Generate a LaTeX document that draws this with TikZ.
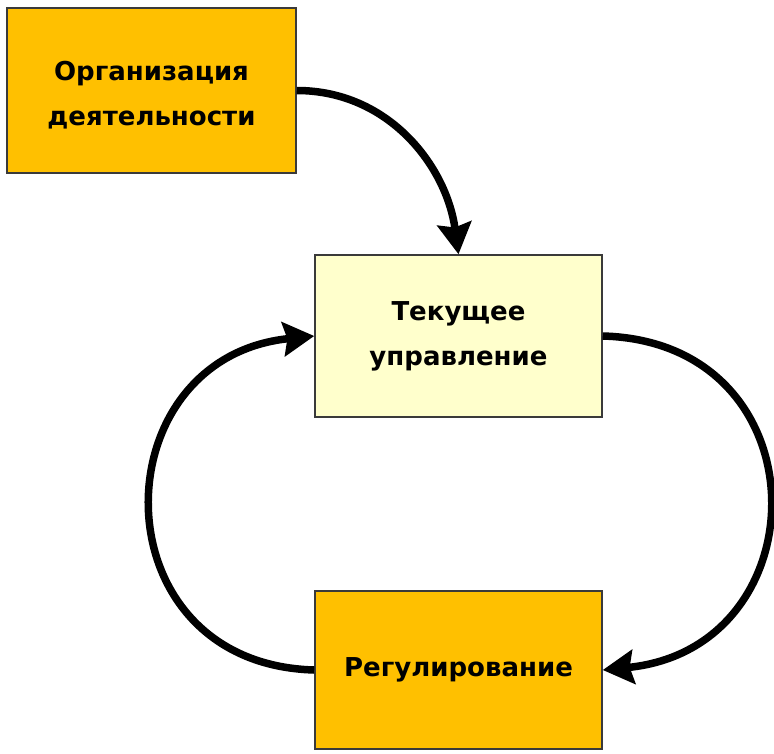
\documentclass[tikz,border=0pt]{standalone}
\usepackage{fontspec}
\setmainfont{DejaVu Sans}
\usetikzlibrary{arrows.meta}
\definecolor{amber}{HTML}{FFC000}
\definecolor{paleyellow}{HTML}{FFFFCC}
\definecolor{boxline}{HTML}{3A3A3A}
\begin{document}
\begin{tikzpicture}[x=1pt,y=-1pt,
  box/.style={draw=boxline, line width=1.5pt, inner sep=0pt, align=center,
    font=\bfseries\fontsize{26}{45}\selectfont},
  caption/.style={align=center, font=\bfseries\fontsize{26}{45}\selectfont},
  flow/.style={line width=7.5pt, -{Stealth[length=31pt,width=34pt,inset=4pt]}}]
\useasboundingbox (0,0) rectangle (774,753);

% three blocks
\node[box, fill=amber, minimum width=289pt, minimum height=165pt] (org) at (151.5,90.5) {};
\node[caption] (orgtext) at (151.5,95) {Организация\\деятельности};
\node[box, fill=paleyellow, minimum width=287pt, minimum height=162pt] (cur) at (458.5,336) {Текущее\\управление};
\node[box, fill=amber, minimum width=287pt, minimum height=158pt] (reg) at (458.5,670) {Регулирование};

% connectors
\draw[flow] (org.east) .. controls +(92,0) and +(-12,-88) .. (cur.north);
\draw[flow] (cur.east) .. controls +(222,6) and +(220,-22) .. (reg.east);
\draw[flow] (reg.west) .. controls +(-218,-6) and +(-216,22) .. (cur.west);
\end{tikzpicture}
\end{document}
